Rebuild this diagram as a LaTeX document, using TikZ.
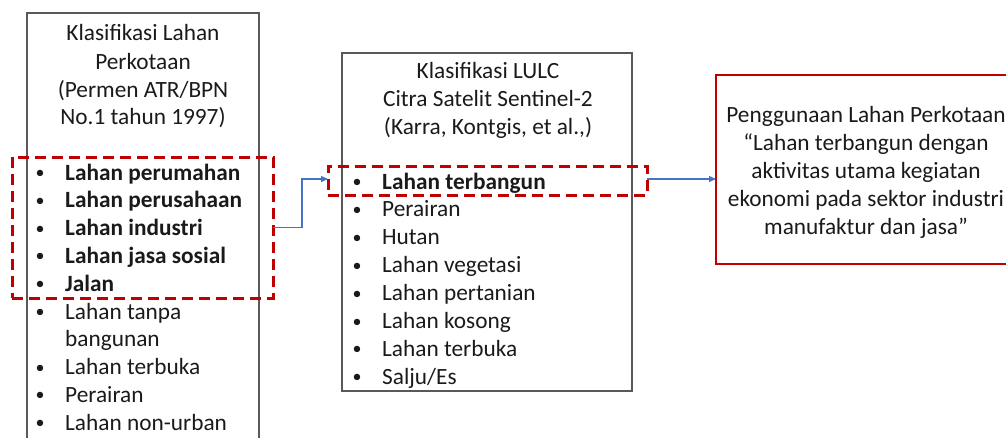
\documentclass[tikz,border=0pt]{standalone}
\usepackage{fontspec}
\setmainfont{Carlito}
\usetikzlibrary{arrows.meta}
\definecolor{txt}{HTML}{1A1A1A}
\definecolor{boxgray}{HTML}{595959}
\definecolor{dred}{HTML}{C00000}
\definecolor{arrblue}{HTML}{4472C4}
\tikzset{
  plainbox/.style={draw=boxgray, line width=1.3pt, inner sep=0pt, outer sep=0pt},
  redbox/.style={draw=dred, line width=1.6pt, inner sep=0pt, outer sep=0pt},
  hilite/.style={draw=dred, line width=3pt, dash pattern=on 11pt off 6pt, inner sep=0pt, outer sep=0pt},
  lbl/.style={text=txt, inner sep=0pt, font=\fontsize{23.3}{27}\selectfont},
  bul/.style={text=txt, inner sep=0pt, font=\fontsize{18}{20}\selectfont, anchor=base, yshift=1.5pt},
  conn/.style={draw=arrblue, line width=1.3pt, -{Triangle[length=7pt,width=6pt]}}
}
\begin{document}
\begin{tikzpicture}[x=1pt,y=-1pt]
\useasboundingbox (0,0) rectangle (1006,437);
\clip (0,0) rectangle (1006,437);
% boxes
\node[plainbox, minimum width=232pt, minimum height=439pt] (lb) at (143,232.5) {};
\node[plainbox, minimum width=290pt, minimum height=338pt] (mb) at (487,222) {};
\node[redbox, minimum width=294pt, minimum height=189pt] (rb) at (863,169.5) {};
% left box title
\node[lbl, anchor=base] (lt1) at (143,40) {Klasifikasi Lahan};
\node[lbl, anchor=base] (lt2) at (143,69) {Perkotaan};
\node[lbl, anchor=base] (lt3) at (143,97) {(Permen ATR/BPN};
\node[lbl, anchor=base] (lt4) at (143,124) {No.1 tahun 1997)};
% left items
\foreach \t [count=\i from 0] in {Lahan perumahan,Lahan perusahaan,Lahan industri,Lahan jasa sosial,Jalan}{
  \node[bul] (lbul\i) at (40,{180+27.8*\i}) {•};
  \node[lbl, anchor=base west] (litem\i) at (65,{180+27.8*\i}) {\bfseries \t};
}
\foreach \t [count=\i from 5] in {Lahan tanpa,,Lahan terbuka,Perairan,Lahan non-urban}{
  \ifx\t\empty\else
  \node[bul] (lbul\i) at (40,{180+27.8*\i}) {•};
  \fi
  \node[lbl, anchor=base west] (litem\i) at (65,{180+27.8*\i}) {\t};
}
\node[lbl, anchor=base west] (litemb) at (65,{180+27.8*6}) {bangunan};
% middle title
\node[lbl, anchor=base] (mt1) at (488,78) {Klasifikasi LULC};
\node[lbl, anchor=base] (mt2) at (488,106) {Citra Satelit Sentinel-2};
\node[lbl, anchor=base] (mt3) at (488,134) {(Karra, Kontgis, et al.,)};
% middle items
\node[bul] (mbul0) at (357,189) {•};
\node[lbl, anchor=base west] (mitem0) at (382,189) {\bfseries Lahan terbangun};
\foreach \t [count=\i from 1] in {Perairan,Hutan,Lahan vegetasi,Lahan pertanian,Lahan kosong,Lahan terbuka,Salju/Es}{
  \node[bul] (mbul\i) at (357,{189+27.9*\i}) {•};
  \node[lbl, anchor=base west] (mitem\i) at (382,{189+27.9*\i}) {\t};
}
% right text
\node[lbl, anchor=base] (r1) at (866,122) {Penggunaan Lahan Perkotaan};
\node[lbl, anchor=base] (r2) at (866,150) {“Lahan terbangun dengan};
\node[lbl, anchor=base] (r3) at (866,178) {aktivitas utama kegiatan};
\node[lbl, anchor=base] (r4) at (866,206) {ekonomi pada sektor industri};
\node[lbl, anchor=base] (r5) at (866,234) {manufaktur dan jasa”};
% highlight boxes
\node[hilite, minimum width=261pt, minimum height=141pt] (dl) at (142.5,227.5) {};
\node[hilite, minimum width=319pt, minimum height=29pt] (dm) at (487.5,180.5) {};
% connectors
\draw[conn] (dl.east) -- ++(29,0) |- ([yshift=1.5pt]dm.west);
\coordinate (rin) at ([yshift=1.5pt]dm.east -| rb.west);
\draw[conn] ([yshift=1.5pt]dm.east) -- (rin);
\end{tikzpicture}
\end{document}
